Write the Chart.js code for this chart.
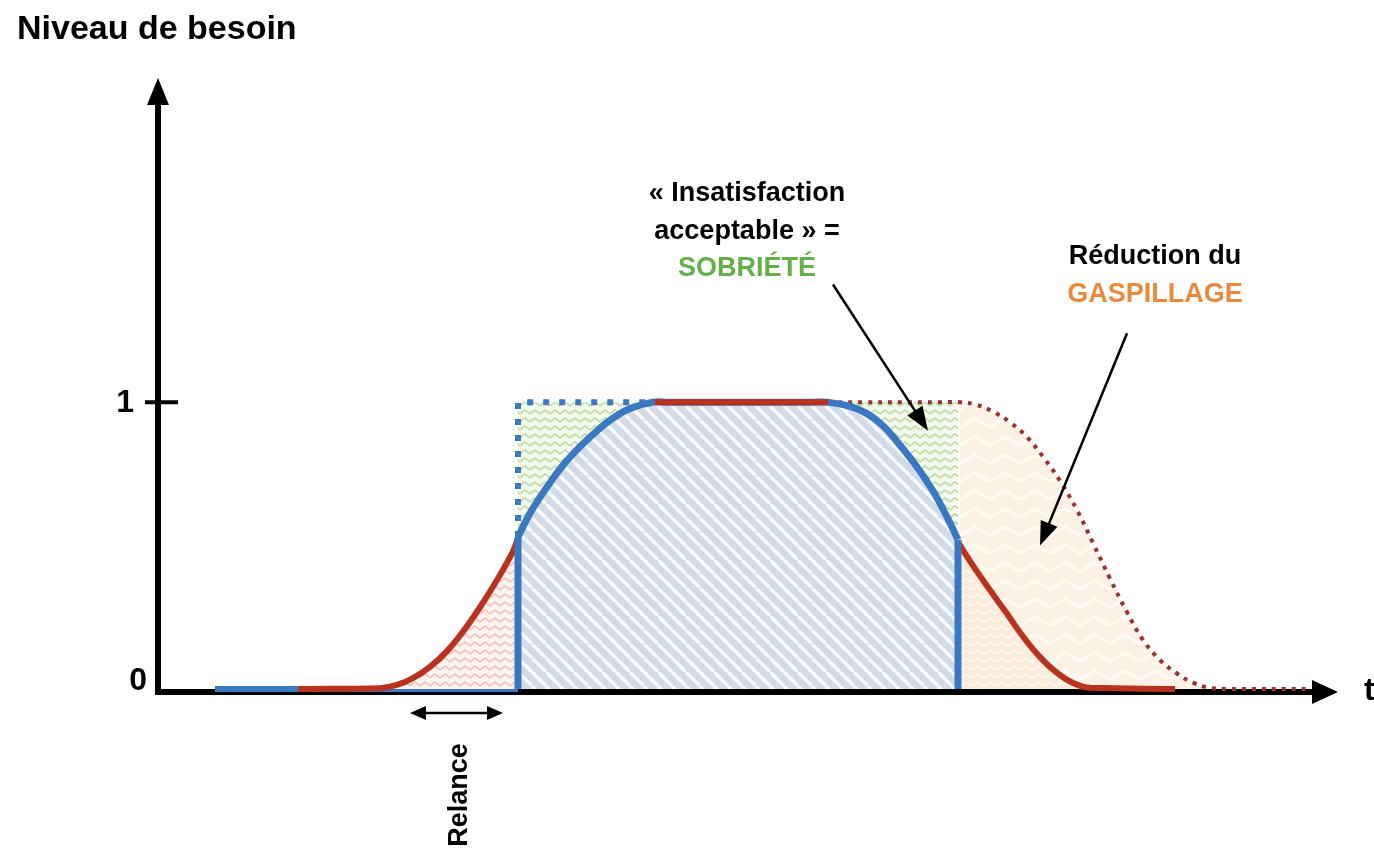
<!DOCTYPE html>
<html lang="fr">
<head>
<meta charset="utf-8">
<title>Niveau de besoin</title>
<script src="https://cdn.jsdelivr.net/npm/chart.js@4.4.0/dist/chart.umd.min.js"></script>
<style>
  html, body { margin: 0; padding: 0; background: #fff; }
  canvas { display: block; }
</style>
</head>
<body>
<canvas id="besoinChart" width="1374" height="853"></canvas>
<script>
// 1. Data: x = time (arbitrary units), y = level of need (1 = full need)
const offreBase = [[5.7, 0], [36, 0]];
const offreBords = [[36, 0], [36, 0.53], [58, null], [80, 0.52], [80, 0]];
const offreCourbe = [[36, 0.53], [37.2, 0.613], [38.9, 0.704], [40.5, 0.78], [42.2, 0.845], [43.9, 0.9], [45.5, 0.944], [47.2, 0.978], [49.5, 1],
    [51, 1], [58, 1], [65.5, 1], [66.9, 1], [69.2, 0.985], [70.9, 0.96], [72.5, 0.918], [74.2, 0.85], [75.9, 0.774], [77.5, 0.69], [78.9, 0.6], [80, 0.52]];
const offreMax = [[36, 0.53], [36, 1], [49.2, 1]];
const enveloppe = [[36, 1], [80, 1]];
const besoinMontee = [[14, 0], [22.2, 0.003], [23.9, 0.014], [25.5, 0.038], [27.2, 0.077], [28.9, 0.132], [30.5, 0.2], [32.2, 0.285], [33.9, 0.38], [35.5, 0.48], [36, 0.526]];
const besoinPlateau = [[49.7, 1], [67, 1]];
const besoinDescente = [[80, 0.512], [81.5, 0.43], [83.2, 0.345], [84.9, 0.262], [86.5, 0.183], [88.2, 0.111], [89.9, 0.056], [91.5, 0.021], [93.2, 0.004], [101.7, 0]];
const besoinInitial = [[67, 1], [78.5, 1], [80.2, 1], [81.9, 0.99], [83.5, 0.967], [85.2, 0.93], [86.9, 0.878], [88.5, 0.81], [90.2, 0.726], [91.9, 0.624], [93.5, 0.509],
    [95.2, 0.385], [96.9, 0.268], [98.5, 0.171], [100.2, 0.101], [101.9, 0.054], [103.5, 0.022], [105.2, 0.004], [107.2, 0], [115.2, 0]];
const yTicks = [0, 1];
const yTickLabels = ['0', '1'];

const BLUE = '#3b78c2';
const RED = '#b8321f';
const DOT_RED = '#973335';

const pts = arr => arr.map(p => ({ x: p[0], y: p[1] }));

// 2. Hatch patterns
function makePattern(w, h, bg, draw) {
    const c = document.createElement('canvas');
    c.width = w; c.height = h;
    const g = c.getContext('2d');
    g.fillStyle = bg;
    g.fillRect(0, 0, w, h);
    draw(g, w, h);
    return g.createPattern(c, 'repeat');
}

const stripes = makePattern(14, 14, '#d3dbe9', (g, s) => {
    g.strokeStyle = 'rgba(255,255,255,0.85)';
    g.lineWidth = 3.5;
    for (let x0 = -s; x0 <= s; x0 += s) {
        g.beginPath(); g.moveTo(x0, 0); g.lineTo(x0 + s, s); g.stroke();
    }
});

function zigzag(bg, col, w, h, lw) {
    return makePattern(w, h, bg, g => {
        g.strokeStyle = col;
        g.lineWidth = lw;
        g.beginPath();
        g.moveTo(0, h * 0.75); g.lineTo(w / 2, h * 0.25); g.lineTo(w, h * 0.75);
        g.stroke();
    });
}

const greenZig = zigzag('#f5faef', '#b6dc9b', 10, 8, 1.6);
const pinkZig = zigzag('#fdf3f1', '#f3beb5', 10, 8, 1.6);
const orangeLight = zigzag('#fbf1e4', '#fffaf4', 30, 18, 3.5);
const orangeDense = zigzag('#faead9', '#fff6ee', 12, 8, 1.8);

// 3. Axes, labels and annotations
function arrowHead(ctx, x1, y1, x2, y2, len, half) {
    const a = Math.atan2(y2 - y1, x2 - x1);
    ctx.beginPath();
    ctx.moveTo(x2, y2);
    ctx.lineTo(x2 - len * Math.cos(a) + half * Math.sin(a), y2 - len * Math.sin(a) - half * Math.cos(a));
    ctx.lineTo(x2 - len * Math.cos(a) - half * Math.sin(a), y2 - len * Math.sin(a) + half * Math.cos(a));
    ctx.closePath();
    ctx.fill();
}

function arrow(ctx, x1, y1, x2, y2, lw, len, half) {
    const a = Math.atan2(y2 - y1, x2 - x1);
    ctx.lineWidth = lw;
    ctx.beginPath();
    ctx.moveTo(x1, y1);
    ctx.lineTo(x2 - (len - 2) * Math.cos(a), y2 - (len - 2) * Math.sin(a));
    ctx.stroke();
    arrowHead(ctx, x1, y1, x2, y2, len, half);
}

const decor = {
    id: 'decor',
    beforeDatasetsDraw(chart) {
        const { ctx, scales: { x, y } } = chart;
        const x0 = x.getPixelForValue(0), y0 = y.getPixelForValue(0);
        const xEnd = x.right, yEnd = y.top;
        ctx.save();
        ctx.fillStyle = '#000';
        ctx.strokeStyle = '#000';
        ctx.lineWidth = 6;
        ctx.beginPath();
        ctx.moveTo(x0, y0 + 6);
        ctx.lineTo(x0, yEnd + 20);
        ctx.moveTo(x0 - 3, y0 + 3);
        ctx.lineTo(xEnd - 20, y0 + 3);
        ctx.stroke();
        arrowHead(ctx, x0, y0, x0, yEnd, 27, 11);
        arrowHead(ctx, x0, y0 + 3, xEnd, y0 + 3, 26, 12);
        // tick at 1
        ctx.lineWidth = 4;
        ctx.beginPath();
        ctx.moveTo(x0 - 13, y.getPixelForValue(1));
        ctx.lineTo(x0 + 20, y.getPixelForValue(1));
        ctx.stroke();
        ctx.restore();
    },
    afterDatasetsDraw(chart) {
        const { ctx, scales: { x, y } } = chart;
        const px = v => x.getPixelForValue(v), py = v => y.getPixelForValue(v);
        ctx.save();
        ctx.fillStyle = '#000';
        ctx.strokeStyle = '#000';
        ctx.textBaseline = 'middle';

        ctx.font = 'bold 34px "Liberation Sans", Arial, sans-serif';
        ctx.textAlign = 'left';
        ctx.fillText('Niveau de besoin', 17, 30);
        ctx.font = 'bold 32px "Liberation Sans", Arial, sans-serif';
        ctx.fillText('t', 1364, py(0) + 2);

        ctx.textAlign = 'right';
        yTicks.forEach((t, i) => {
            const off = t === 0 ? [147, -8] : [134, 1];
            ctx.fillText(yTickLabels[i], off[0], py(t) + off[1]);
        });

        ctx.font = 'bold 27px "Liberation Sans", Arial, sans-serif';
        ctx.textAlign = 'center';
        ctx.fillText('« Insatisfaction', px(58.9), 194);
        ctx.fillText('acceptable » =', px(58.9), 232);
        ctx.fillStyle = '#63b04a';
        ctx.fillText('SOBRIÉTÉ', px(58.9), 269);
        ctx.fillStyle = '#000';
        ctx.fillText('Réduction du', px(99.7), 257);
        ctx.fillStyle = '#e8893d';
        ctx.fillText('GASPILLAGE', px(99.7), 295);
        ctx.fillStyle = '#000';

        arrow(ctx, px(67.5), py(1.41), px(77), py(0.9), 2.5, 24, 9);
        arrow(ctx, px(96.9), py(1.24), px(88.2), py(0.5), 2.5, 24, 9);

        // Relance
        const ry = py(0) + 24;
        ctx.lineWidth = 2.5;
        ctx.beginPath();
        ctx.moveTo(px(25.2) + 10, ry);
        ctx.lineTo(px(34.5) - 10, ry);
        ctx.stroke();
        arrowHead(ctx, px(34.5), ry, px(25.2), ry, 16, 7);
        arrowHead(ctx, px(25.2), ry, px(34.5), ry, 16, 7);
        ctx.save();
        ctx.translate(px(30.2), 795);
        ctx.rotate(-Math.PI / 2);
        ctx.fillText('Relance', 0, 0);
        ctx.restore();
        ctx.restore();
    }
};

// 4. Chart
function lineSet(data, color, width, order, extra) {
    return Object.assign({
        data: pts(data),
        borderColor: color,
        borderWidth: width,
        pointRadius: 0,
        fill: false,
        clip: false,
        tension: 0.4,
        order: order
    }, extra || {});
}

const orangeArea = besoinInitial.filter(p => p[0] >= 80);

new Chart(document.getElementById('besoinChart'), {
    type: 'line',
    data: {
        datasets: [
            lineSet(besoinPlateau, RED, 6, 0, { tension: 0 }),
            lineSet(offreBords, BLUE, 7, 1, { tension: 0, spanGaps: false }),
            lineSet(offreCourbe, BLUE, 7, 2, { fill: 'origin', backgroundColor: stripes }),
            lineSet(offreMax, BLUE, 6, 3, { tension: 0, borderDash: [6, 10], borderCapStyle: 'butt' }),
            lineSet(besoinMontee, RED, 6, 4, { fill: 'origin', backgroundColor: pinkZig }),
            lineSet(besoinDescente, RED, 6, 4, { fill: 'origin', backgroundColor: orangeDense }),
            lineSet(besoinInitial, DOT_RED, 4, 5, { borderDash: [4, 6] }),
            lineSet(enveloppe, 'rgba(0,0,0,0)', 0, 6, { fill: 'origin', backgroundColor: greenZig, tension: 0 }),
            lineSet(orangeArea, 'rgba(0,0,0,0)', 0, 7, { fill: 'origin', backgroundColor: orangeLight }),
            lineSet(offreBase, BLUE, 6, 8, { tension: 0 })
        ]
    },
    options: {
        responsive: false,
        animation: false,
        devicePixelRatio: 1,
        layout: { padding: { left: 158, right: 36, top: 78, bottom: 164 } },
        plugins: { legend: { display: false }, tooltip: { enabled: false } },
        scales: {
            x: { type: 'linear', min: 0, max: 118, display: false },
            y: { type: 'linear', min: 0, max: 2.13, display: false }
        }
    },
    plugins: [decor]
});
</script>
</body>
</html>
